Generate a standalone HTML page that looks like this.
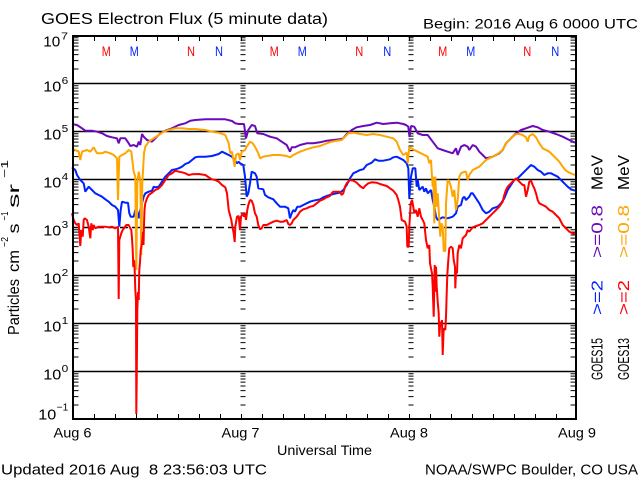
<!DOCTYPE html>
<html>
<head>
<meta charset="utf-8">
<style>
html,body{margin:0;padding:0;background:#fff;}
svg{display:block;}
text{font-family:"Liberation Sans","DejaVu Sans",sans-serif;}
</style>
</head>
<body>
<svg width="640" height="480" viewBox="0 0 640 480" xmlns="http://www.w3.org/2000/svg">
<rect x="0" y="0" width="640" height="480" fill="#fff"/>
<defs>
<path id="dec" d="M0 33.55h5M0 25.1h5M0 19.1h5M0 14.45h5M0 10.65h5M0 7.44h5M0 4.65h5M0 2.2h5" stroke="#000" stroke-width="1" fill="none"/>
<g id="col">
<use href="#dec" y="35.5"/><use href="#dec" y="83.5"/><use href="#dec" y="131.5"/><use href="#dec" y="179.5"/>
<use href="#dec" y="227.5"/><use href="#dec" y="275.5"/><use href="#dec" y="323.5"/><use href="#dec" y="371.5"/>
</g>
</defs>

<!-- Title -->
<text x="41" y="24" font-size="15.5" textLength="287" lengthAdjust="spacingAndGlyphs">GOES Electron Flux (5 minute data)</text>
<text x="423" y="28.3" font-size="14" textLength="215" lengthAdjust="spacingAndGlyphs">Begin: 2016 Aug 6 0000 UTC</text>

<!-- Grid lines -->
<g stroke="#000" stroke-width="1.5" fill="none">
<line x1="72" y1="83.5" x2="577" y2="83.5"/>
<line x1="72" y1="131.5" x2="577" y2="131.5"/>
<line x1="72" y1="179.5" x2="577" y2="179.5"/>
<line x1="72" y1="227.5" x2="577" y2="227.5" stroke-dasharray="8 4"/>
<line x1="72" y1="275.5" x2="577" y2="275.5"/>
<line x1="72" y1="323.5" x2="577" y2="323.5"/>
<line x1="72" y1="371.5" x2="577" y2="371.5"/>
</g>

<!-- minor log ticks: left axis, right axis, day dividers -->
<use href="#col" x="73.5"/>
<use href="#col" x="570.5"/>
<use href="#col" x="240.5"/>
<use href="#col" x="408.5"/>

<!-- time ticks -->
<path stroke="#000" stroke-width="1" fill="none" d="
M94.5 37V41M115.5 37V41M136.5 37V41M157.5 37V41M178.5 37V41M199.5 37V41M220.5 37V41M241.5 37V41M262.5 37V41M283.5 37V41M304.5 37V41M325.5 37V41M346.5 37V41M367.5 37V41M388.5 37V41M409.5 37V41M430.5 37V41M451.5 37V41M472.5 37V41M493.5 37V41M514.5 37V41M535.5 37V41M556.5 37V41
M94.5 414V418M115.5 414V418M136.5 414V418M157.5 414V418M178.5 414V418M199.5 414V418M220.5 414V418M241.5 414V418M262.5 414V418M283.5 414V418M304.5 414V418M325.5 414V418M346.5 414V418M367.5 414V418M388.5 414V418M409.5 414V418M430.5 414V418M451.5 414V418M472.5 414V418M493.5 414V418M514.5 414V418M535.5 414V418M556.5 414V418"/>

<!-- M / N markers -->
<g font-size="13.5" text-anchor="middle">
<text x="106.3" y="56" fill="#ff0000" textLength="9" lengthAdjust="spacingAndGlyphs">M</text>
<text x="134.3" y="56" fill="#0022ff" textLength="9" lengthAdjust="spacingAndGlyphs">M</text>
<text x="191" y="56" fill="#ff0000" textLength="8" lengthAdjust="spacingAndGlyphs">N</text>
<text x="219" y="56" fill="#0022ff" textLength="8" lengthAdjust="spacingAndGlyphs">N</text>
<text x="274.3" y="56" fill="#ff0000" textLength="9" lengthAdjust="spacingAndGlyphs">M</text>
<text x="302.3" y="56" fill="#0022ff" textLength="9" lengthAdjust="spacingAndGlyphs">M</text>
<text x="359.3" y="56" fill="#ff0000" textLength="8" lengthAdjust="spacingAndGlyphs">N</text>
<text x="387.3" y="56" fill="#0022ff" textLength="8" lengthAdjust="spacingAndGlyphs">N</text>
<text x="442.7" y="56" fill="#ff0000" textLength="9" lengthAdjust="spacingAndGlyphs">M</text>
<text x="470.7" y="56" fill="#0022ff" textLength="9" lengthAdjust="spacingAndGlyphs">M</text>
<text x="527.3" y="56" fill="#ff0000" textLength="8" lengthAdjust="spacingAndGlyphs">N</text>
<text x="555.3" y="56" fill="#0022ff" textLength="8" lengthAdjust="spacingAndGlyphs">N</text>
</g>

<!-- Data series -->
<g fill="none" stroke-width="2" stroke-linejoin="bevel">
<polyline stroke="#6a0aba" points="72,124 77,125 82,128.3 85.3,130.7 92,130.7 97,131.7 102,133.3 107,136 112,137.3 117,138.3 118.7,143.3 120.3,138.3 125.3,138.3 128.7,143.3 130.3,146 133.7,145 137,146.7 138.7,141.7 140.3,145 142,134 143.7,136.7 147,140 152,141.7 155.3,138.3 160.3,133.3 165.3,130.7 172,128.3 178.7,125 185.3,123.3 190.3,120.7 195.3,120 205.3,119.3 215.3,119.3 225.3,119.3 232,121 235.3,123.3 238.7,124 244,124 246,138.3 248.3,130 251.7,125 255,126 257.3,133.3 263.3,134 270,136.7 276.7,138.3 281.7,141.7 286.7,145 290,151.7 291.7,147.3 295,147.3 300,145 306.7,143.3 313.3,143.3 320,142.3 326.7,140.7 333.3,140 340,139.3 343.3,138.3 346.7,134 351.7,130 356.7,127.3 363.3,126 370,125 376.7,122.7 383.3,124 390,123.3 396.7,122.7 403.3,124 406,125 408.3,126.7 409.5,137 411,126 414.3,126.7 417.7,133.3 422.7,135 427.7,135 432.7,141.7 437.7,148.3 442.7,150 447.7,151.7 452.7,153.3 456,148.3 457.7,155 461,146.7 464.3,145 467.7,146.7 469.3,150 472.7,145 476,146.7 479.3,151.7 482.7,155 486,158.3 492.7,156.7 499.3,153.3 502.7,150 506,143.3 511,138.3 516,133.3 521,130 526,128.3 532.7,126 537.7,127.3 542.7,130 549.3,131.7 556,134 562.7,136.7 569.3,140 575,142.7"/>
<polyline stroke="#0022ff" points="72,167.3 75.3,170 77,175 80.3,180 83.7,183.3 85.3,191.7 88.7,186.7 92,190 95.3,193.3 98.7,195 102,196.7 105.3,199.3 108.7,201.7 112,205 115.3,206.7 118,210 119.3,226.7 120.7,210 122,201.7 125.3,202.7 128,202.7 129.3,213.3 130.7,216.7 133.7,216.7 135.3,210 137,210 138.7,218.3 140.3,210 142,203.3 143.7,196.7 145.3,193.3 148.7,191.7 152,190.7 153.7,186.7 155.3,187.3 158.7,186.7 162,181.7 165.3,176.7 168.7,173.3 172,170 175.3,169.3 178.7,168.3 182,166.7 185.3,164 188.7,162.7 192,160 195.3,157.3 198.7,156.7 205.3,156.7 212,156 218.7,154 222,151.7 225.3,153.3 228.7,155 232,156.7 234.7,160 237,163.3 238.7,161.7 240,163.3 243.3,165 245,176.7 246.7,196.7 248.3,193.3 250,183.3 251.7,171.7 255,173.3 256.7,176.7 258.3,188.3 263.3,189.3 265,195 268.3,197.3 273.3,199.3 276.7,203.3 280,206.7 285,206.7 288.3,208.3 290,218.3 291.7,213.3 293.3,210 295,211.7 297.3,206.7 300,206.7 303.3,205 306.7,203.3 310,201.7 313.3,200.7 320,199.3 323.3,197.3 326.7,196 330,195 333.3,194 336.7,193.3 340,192.7 343.3,190 346.7,185 350,178.3 353.3,173.3 356.7,171.7 360,170 363.3,169.3 366.7,165 371.7,162.7 375,159.3 378.3,160.7 383.3,160.7 390,159.3 393.3,157.3 396.7,156.7 400,158.3 403.3,160 406.7,163.3 408.3,168.3 409.3,198.3 411,176.7 412.7,168.3 415.3,168.3 416.7,186.7 417.7,180 419.3,190 422.7,186.7 424.3,191.7 426,188.3 427.7,193.3 431,190 432.7,200 434.3,206.7 436,216.7 437.7,220 442.7,217.3 447.7,218.3 452.7,216.7 456,213.3 457.7,206.7 461,205 462.7,198.3 464.3,196.7 466,200 469.3,196.7 471,193.3 472.7,193.3 476,198.3 479.3,203.3 482.7,210 486,213.3 489.3,211.7 492.7,208.3 497.7,206.7 501,203.3 504.3,198.3 507.7,190 511,185 514.3,180 517.7,178.3 521,175 524.3,171.7 527.7,168.3 531,165 534.3,166.7 537.7,170 541,171.7 544.3,175 547.7,173.3 551,173.3 554.3,175 557.7,176.7 561,180 564.3,183.3 567.7,186.7 571,189.3 575,190.7"/>
<polyline stroke="#ffa500" points="72,148.3 75.3,150 78.7,151.7 80.3,160 82,151.7 87,150 90.3,151.7 93.7,147.3 97,153.3 102,153.3 105.3,151.7 110.3,153.3 113.7,155 117,158.3 118,200 119.3,156.7 122,155 125.3,153.3 128.7,150 131.3,151.7 133.7,171.7 135.3,176.7 136.3,270 137.3,183.3 138.7,171.7 140.3,180 141.3,255 142.3,183.3 144,153.3 145.3,146.7 148.7,141.7 153.7,138.3 158.7,135 163.7,131.7 168.7,130 175.3,128.3 182,128.3 188.7,129 195.3,129 205.3,130 212,131.7 218.7,132.7 225.3,135 228.7,143.3 230.3,153.3 232,151.7 234.7,166.7 236,155 238.7,153.3 240,160 241.7,151.7 245,150 246.7,146.7 250,141.7 252.7,143.3 255,146.7 258.3,153.3 260,158.3 263.3,156.7 266.7,156 273.3,155 280,155 286.7,156 290,157.3 293.3,155 300,151.7 306.7,149.3 313.3,147.3 320,146 326.7,143.3 331.7,141.7 336.7,140.7 341.7,140 345,136.7 348.3,133.3 353.3,132.7 360,134 366.7,135 373.3,134 380,135 386.7,136.7 393.3,138.3 396.7,141.7 400,150 403.3,155 406.7,152.7 407.7,163.3 409.3,146.7 411,148.3 414.3,150 417.7,151.7 421,153.3 424.3,155 427.7,156.7 429.3,163.3 431,160 432,176.7 432.7,186.7 433.3,176.7 434.3,223.3 435.3,176.7 436.7,206.7 437.7,193.3 439.3,220 440.3,236.7 441.3,223.3 442.7,226.7 443.7,251 445.3,251 446,203.3 447.7,180 449.3,181.7 451,186.7 452.7,196.7 454.3,190 456,210 457.7,200 459.3,176.7 461,173.3 464.3,171.7 466,171.7 467.7,180 469.3,175 472.7,170 476,168.3 479.3,166.7 482.7,163.3 486,160 489.3,158.3 492.7,156.7 496,155 499.3,152.7 502.7,150 506,143.3 509.3,140 512.7,136.7 516,134 519.3,134 522.7,135 526,137.3 527.7,141.7 529.3,136 532.7,134 536,137.3 539.3,143.3 542.7,148.3 546,150 549.3,151.7 552.7,155 556,158.3 559.3,161.7 562.7,166.7 566,170.7 569.3,172.7 575,175"/>
<polyline stroke="#ff0000" points="72,213.3 73.7,220 75.3,223.3 77,225 78.7,223.3 80.3,246 81.3,230 82.7,236.7 83.7,220 84.7,218.3 87,220 88.7,226.7 90.3,238.3 91.3,223.3 92.7,230 93.7,225 95.3,228.3 98.7,226.7 105.3,226.7 108.7,227.3 112,226.7 115.3,228.3 118,226.7 118.7,299 119.3,240 120.3,236.7 121.3,233.3 122.7,230 124,228.3 126.3,225 128.7,225 130.3,228.3 131.3,230 132,238.3 132.7,250 133.3,267 134,260 134.7,270 135.3,290 136,300 136.3,414 136.7,380 137.3,310 138,292 138.7,300 139.3,270 140,262 140.7,250 141.7,245 142.3,240 143,232 143.5,245 144,225 144.5,210 145.3,203.3 147,198.3 148.7,195 152,192.7 155.3,190 158.7,188.3 162,185 165.3,180 168.7,175 172,173.3 175.3,170.7 178.7,171.7 182,172.3 185.3,173.3 188.7,175 192,174.3 198.7,174 205.3,175 208.7,177.3 212,179.3 215.3,180 218.7,181.7 222,185 225.3,187.3 227,193.3 228.7,210 231.3,220 232.7,228.3 233.7,233.3 234.7,242 235.3,226.7 237,216.7 238.7,216 240,230 241,216.7 242.7,213.3 244,216.7 245,213.3 246,220 247.3,210 248.3,205 250,200 251.7,200.7 253.3,205 255,213.3 256.7,216.7 258.3,225 260,229.3 261.7,228.3 263.3,225 266.7,225 270,223.3 273.3,221.7 276.7,220.7 280,221.7 283.3,221.7 286.7,220 288.3,224 290,225 291.7,223.3 293.3,220 296.7,216.7 300,211.7 303.3,209.3 306.7,208.3 310,206.7 313.3,206 316.7,203.3 320,200.7 323.3,199.3 326.7,197.3 330,196 331.7,193.3 333.3,191.7 336.7,191.7 340,191.7 341.7,195 343.3,193.3 345,186.7 346.7,183.3 350,180 353.3,180.7 356.7,182.7 360,186 363.3,188.3 365,186 368.3,183.3 371.7,182.3 376.7,182.7 380,184 383.3,185 386.7,186 390,188.3 393.3,190.7 396.7,195 398.3,200 400,206.7 401.7,220 405,221.7 406.7,226.7 407.3,246.7 408.7,246.7 409.3,226.7 410.7,203.3 412,200 412.7,203.3 414.3,213.3 416,210 417.7,216.7 419.3,208.3 421,216.7 422.7,220 424.3,223.3 425.3,233.3 426,240 427.7,248.3 429.3,245 430,263.3 432,273.3 432.7,286.7 433.7,316.7 434.7,265 435.3,291.7 436,266.7 436.7,286.7 437.7,301.7 438.7,313.3 439.3,336.7 440.3,321.7 441,326.7 442,320 442.7,355 443.7,328.3 445.3,330 446,316.7 446.7,293.3 447.3,275 448.3,260 449.3,248.3 451,246.7 452.7,248.3 453.7,260 455,266.7 455.3,288.3 456,271.7 457,273.3 457.7,253.3 459.3,245 461,248.3 462.7,238.3 466,235 467.7,230 469.3,231.7 472.7,227.3 476,226 479.3,225 482.7,223.3 486,220 489.3,216.7 492.7,213.3 496,210 499.3,206.7 502.7,201.7 504.3,195 506,190 507.7,186.7 511,183.3 514.3,180 516,178.3 517.7,180 519.3,181.7 521,183.3 522.7,185 524.3,185 526,196.7 527.7,190 529.3,181.7 531,180.7 532.7,185 534.3,188.3 536,193.3 537.7,200 539.3,203.3 542.7,205 546,206.7 549.3,210 552.7,211.7 556,215 559.3,218.3 562.7,225 566,228.3 569.3,231.7 572.7,233.3 575,234"/>
</g>

<!-- Plot border -->
<rect x="73" y="36" width="503" height="383" fill="none" stroke="#000" stroke-width="2"/>

<!-- Y tick labels -->
<g font-size="15">
<text x="43.3" y="46.7" textLength="17" lengthAdjust="spacingAndGlyphs">10</text>
<text x="61" y="39.3" font-size="10" textLength="7" lengthAdjust="spacingAndGlyphs">7</text>
<text x="43.3" y="91.5" textLength="18" lengthAdjust="spacingAndGlyphs">10</text>
<text x="61.7" y="84" font-size="10" textLength="6.6" lengthAdjust="spacingAndGlyphs">6</text>
<text x="43.3" y="139.5" textLength="18" lengthAdjust="spacingAndGlyphs">10</text>
<text x="61.7" y="132" font-size="10" textLength="6.6" lengthAdjust="spacingAndGlyphs">5</text>
<text x="43.3" y="187.5" textLength="18" lengthAdjust="spacingAndGlyphs">10</text>
<text x="61.7" y="180" font-size="10" textLength="6.6" lengthAdjust="spacingAndGlyphs">4</text>
<text x="43.3" y="235.5" textLength="18" lengthAdjust="spacingAndGlyphs">10</text>
<text x="61.7" y="228" font-size="10" textLength="6.6" lengthAdjust="spacingAndGlyphs">3</text>
<text x="43.3" y="283.5" textLength="18" lengthAdjust="spacingAndGlyphs">10</text>
<text x="61.7" y="276" font-size="10" textLength="6.6" lengthAdjust="spacingAndGlyphs">2</text>
<text x="43.3" y="331.5" textLength="18" lengthAdjust="spacingAndGlyphs">10</text>
<text x="61.7" y="324" font-size="10" textLength="6.6" lengthAdjust="spacingAndGlyphs">1</text>
<text x="43.3" y="379.5" textLength="18" lengthAdjust="spacingAndGlyphs">10</text>
<text x="61.7" y="372" font-size="10" textLength="6.6" lengthAdjust="spacingAndGlyphs">0</text>
<text x="38.3" y="419.3" textLength="18" lengthAdjust="spacingAndGlyphs">10</text>
<text x="56.7" y="410.5" font-size="10" textLength="11.6" lengthAdjust="spacingAndGlyphs">−1</text>
</g>

<!-- Y axis title (rotated) -->
<g font-size="16">
<text transform="translate(19,335) rotate(-90)" textLength="56" lengthAdjust="spacingAndGlyphs">Particles</text>
<text transform="translate(19,272) rotate(-90)" textLength="22" lengthAdjust="spacingAndGlyphs">cm</text>
<text transform="translate(8,247) rotate(-90)" font-size="10" textLength="10" lengthAdjust="spacingAndGlyphs">−2</text>
<text transform="translate(19,233.5) rotate(-90)" textLength="10" lengthAdjust="spacingAndGlyphs">s</text>
<text transform="translate(8,220.5) rotate(-90)" font-size="10" textLength="9" lengthAdjust="spacingAndGlyphs">−1</text>
<text transform="translate(19,208) rotate(-90)" textLength="24" lengthAdjust="spacingAndGlyphs">sr</text>
<text transform="translate(8,178) rotate(-90)" font-size="10" textLength="18" lengthAdjust="spacingAndGlyphs">−1</text>
</g>

<!-- X labels -->
<g font-size="13.5" text-anchor="middle">
<text x="72.5" y="437.5" textLength="38" lengthAdjust="spacingAndGlyphs">Aug 6</text>
<text x="240.5" y="437.5" textLength="38" lengthAdjust="spacingAndGlyphs">Aug 7</text>
<text x="409" y="437.5" textLength="38" lengthAdjust="spacingAndGlyphs">Aug 8</text>
<text x="577" y="437.5" textLength="38" lengthAdjust="spacingAndGlyphs">Aug 9</text>
</g>
<text x="277" y="455" font-size="13.5" textLength="95" lengthAdjust="spacingAndGlyphs">Universal Time</text>

<!-- Footer -->
<text x="1" y="474.5" font-size="15" textLength="266" lengthAdjust="spacingAndGlyphs" style="white-space:pre">Updated 2016 Aug  8 23:56:03 UTC</text>
<text x="425" y="474.5" font-size="15" textLength="213" lengthAdjust="spacingAndGlyphs">NOAA/SWPC Boulder, CO USA</text>

<!-- Legend (rotated) -->
<g font-size="16">
<text transform="translate(602.5,380) rotate(-90)" textLength="42" lengthAdjust="spacingAndGlyphs">GOES15</text>
<text transform="translate(602.5,315) rotate(-90)" fill="#0022ff" textLength="35" lengthAdjust="spacingAndGlyphs">&gt;=2</text>
<text transform="translate(602.5,258) rotate(-90)" fill="#6a0aba" textLength="53" lengthAdjust="spacingAndGlyphs">&gt;=0.8</text>
<text transform="translate(602.5,190) rotate(-90)" textLength="35" lengthAdjust="spacingAndGlyphs">MeV</text>
<text transform="translate(629,380) rotate(-90)" textLength="42" lengthAdjust="spacingAndGlyphs">GOES13</text>
<text transform="translate(629,315) rotate(-90)" fill="#ff0000" textLength="35" lengthAdjust="spacingAndGlyphs">&gt;=2</text>
<text transform="translate(629,258) rotate(-90)" fill="#ffa500" textLength="53" lengthAdjust="spacingAndGlyphs">&gt;=0.8</text>
<text transform="translate(629,190) rotate(-90)" textLength="35" lengthAdjust="spacingAndGlyphs">MeV</text>
</g>
</svg>
</body>
</html>
